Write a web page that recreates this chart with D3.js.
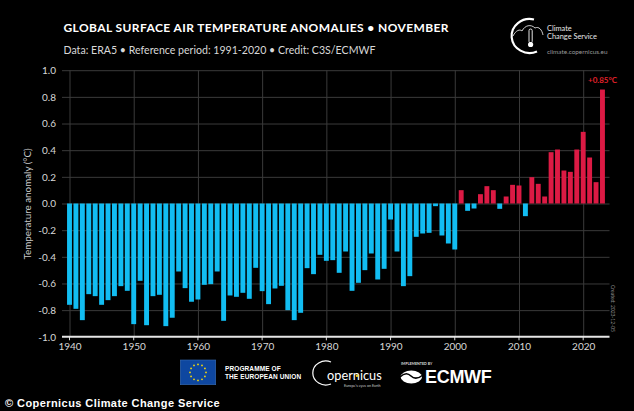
<!DOCTYPE html>
<html><head><meta charset="utf-8">
<script src="https://cdn.jsdelivr.net/npm/d3@7/dist/d3.min.js"></script>
<style>html,body{margin:0;padding:0;background:#000}svg{display:block}</style>
</head><body><svg id="c" width="634" height="411"></svg>
<script>
const startYear = 1940;
const values = [-.76,-.79,-.875,-.68,-.695,-.76,-.725,-.695,-.62,-.655,
 -.905,-.58,-.913,-.695,-.685,-.92,-.857,-.51,-.635,-.737,
 -.72,-.61,-.605,-.51,-.88,-.69,-.70,-.67,-.715,-.4825,
 -.6575,-.755,-.6375,-.6175,-.80,-.875,-.82,-.485,-.53,-.385,
 -.43,-.425,-.52,-.36,-.655,-.595,-.50,-.375,-.57,-.49,
 -.12,-.36,-.62,-.545,-.25,-.225,-.22,-.02,-.24,-.30,
 -.345,.10,-.055,-.0375,.07,.13,.10,-.04,.0525,.14,
 .135,-.095,.1975,.1475,.0525,.385,.405,.2475,.2375,.405,
 .5375,.345,.16,.855];
const years = values.map((_, i) => startYear + i);
const yTicks = [1,.8,.6,.4,.2,0,-.2,-.4,-.6,-.8,-1];
const xTicks = [1940,1950,1960,1970,1980,1990,2000,2010,2020];
const title = "GLOBAL SURFACE AIR TEMPERATURE ANOMALIES • NOVEMBER";
const subtitle = "Data: ERA5 • Reference period: 1991-2020 • Credit: C3S/ECMWF";
const yLabel = "Temperature anomaly (°C)";
const callout = "+0.85°C";

const svg = d3.select("#c");
const font = "Lato, 'Open Sans', sans-serif";
const x = d3.scaleLinear().domain([1940,2020]).range([69.5,583.2]);
const y = d3.scaleLinear().domain([-1,1]).range([336.8,70.2]);
const L = 62, R = 609.5;

const gy = svg.append("g").attr("transform",`translate(${L},0)`)
  .call(d3.axisLeft(y).tickValues(yTicks).tickSize(0).tickPadding(6).tickFormat(d3.format(".1f")));
gy.select(".domain").remove();
gy.selectAll("line").attr("x2",R-L).attr("stroke","#3a3a3a").attr("stroke-width",1);
gy.selectAll("text").attr("fill","#d8d8d8").style("font",`10px ${font}`).text(d=>d3.format(".1f")(d).replace("−","-"));
gy.selectAll(".tick").filter(d=>d===-1).select("line").remove();

const gx = svg.append("g").attr("transform",`translate(0,${y(-1)})`)
  .call(d3.axisBottom(x).tickValues(xTicks).tickFormat(d3.format("d")).tickSize(0).tickPadding(6));
gx.select(".domain").remove();
gx.selectAll("line").attr("y2",y(1)-y(-1)).attr("stroke","#3a3a3a");
gx.selectAll("text").attr("fill","#d8d8d8").style("font",`10px ${font}`);
svg.append("g").selectAll("line").data(xTicks).join("line")
  .attr("x1",d=>x(d)).attr("x2",d=>x(d)).attr("y1",y(-1)).attr("y2",y(-1)+3.5).attr("stroke","#ddd");
svg.append("line").attr("x1",L).attr("x2",R).attr("y1",y(-1)).attr("y2",y(-1)).attr("stroke","#e6e6e6").attr("stroke-width",2);

const bw = 4.9;
svg.append("g").selectAll("rect").data(values).join("rect")
  .attr("x",(d,i)=>x(years[i])-bw/2).attr("width",bw)
  .attr("y",d=>y(Math.max(d,0))).attr("height",d=>Math.abs(y(d)-y(0)))
  .attr("fill",d=>d<0?"#12bdf2":"#dc1a44");

const txt=(s,px,py,size,fill,weight,anchor,fam,ls)=>svg.append("text").attr("x",px).attr("y",py)
  .attr("fill",fill).attr("font-size",size).attr("font-weight",weight||400).attr("text-anchor",anchor||"start")
  .attr("font-family",fam||font).attr("letter-spacing",ls||0).text(s);
const arial = "'Liberation Sans',sans-serif";

txt(title,63.5,32,12,"#fff",700,"start",font,.4);
txt(subtitle,63.5,53.5,10.6,"#d8d8d8",400);
svg.append("text").attr("transform","translate(30.5,204) rotate(-90)").attr("text-anchor","middle")
  .attr("fill","#c8c8c8").attr("font-size",9.8).attr("font-family",font).text(yLabel);
txt(callout,588,83,8,"#e0202a",700,"start");
svg.append("text").attr("fill","#8a8a8a").attr("font-size",5).attr("font-family",font)
  .attr("transform","translate(611,285) rotate(90)").text("Created: 2023-12-05");

// C3S logo
const lg = svg.append("g").attr("fill","none").attr("stroke","#fff");
lg.append("path").attr("d","M534 19.5 A18 17 0 1 0 537 51.5").attr("stroke-width",2.2);
lg.append("path").attr("d","M513 36 C516 30 520 29 522 31 C525 25 531 24 535 28 C539 26 542 30 543 35").attr("stroke-width",.8);
lg.append("rect").attr("x",529).attr("y",29).attr("width",3.2).attr("height",14).attr("rx",1.6).attr("stroke-width",.9);
lg.append("circle").attr("cx",530.6).attr("cy",44.5).attr("r",2.6).attr("fill","#fff").attr("stroke","none");
txt("Climate",547,30.5,7.4,"#e8e8e8",400);
txt("Change Service",547,39,7.4,"#e8e8e8",400);
txt("climate.copernicus.eu",547,53.5,6.4,"#999",400);

// Funding logos
svg.append("rect").attr("x",180.3).attr("y",360).attr("width",35.4).attr("height",24.7).attr("fill","#0e47a0").attr("stroke","#3a6fb5").attr("stroke-width",.6);
const stars = d3.range(12).map(i=>i*Math.PI/6);
svg.append("g").selectAll("circle").data(stars).join("circle")
  .attr("cx",a=>198+8*Math.cos(a)).attr("cy",a=>372.4+8*Math.sin(a)).attr("r",.9).attr("fill","#f5d90a");
txt("PROGRAMME OF",225,371,6.5,"#fff",700,"start",arial,.1);
txt("THE EUROPEAN UNION",225,379,6.5,"#fff",700,"start",arial,.1);
svg.append("path").attr("d","M331 362 A13 12 0 1 0 331 384").attr("fill","none").attr("stroke","#fff").attr("stroke-width",1.2);
txt("opernicus",327,379.5,13,"#fff",400,"start",font).attr("textLength",54.7).attr("lengthAdjust","spacingAndGlyphs");
svg.append("circle").attr("cx",357).attr("cy",375.7).attr("r",1.3).attr("fill","#f0d020");
txt("Europe's eyes on Earth",344,387,3.7,"#ccc",400);
txt("IMPLEMENTED BY",401,365,3.6,"#ddd",700);
svg.append("ellipse").attr("cx",411.3).attr("cy",377).attr("rx",10.7).attr("ry",6.5).attr("fill","#fff");
svg.append("path").attr("d","M400 377 C404 373 408 373 411 376 C414 379 418 379 423 375").attr("fill","none").attr("stroke","#000").attr("stroke-width",1.6);
txt("ECMWF",425,383.3,18,"#fff",700,"start",arial,-.3);

txt("© Copernicus Climate Change Service",5,407,11,"#fff",700,"start",arial,.43);
</script></body></html>
